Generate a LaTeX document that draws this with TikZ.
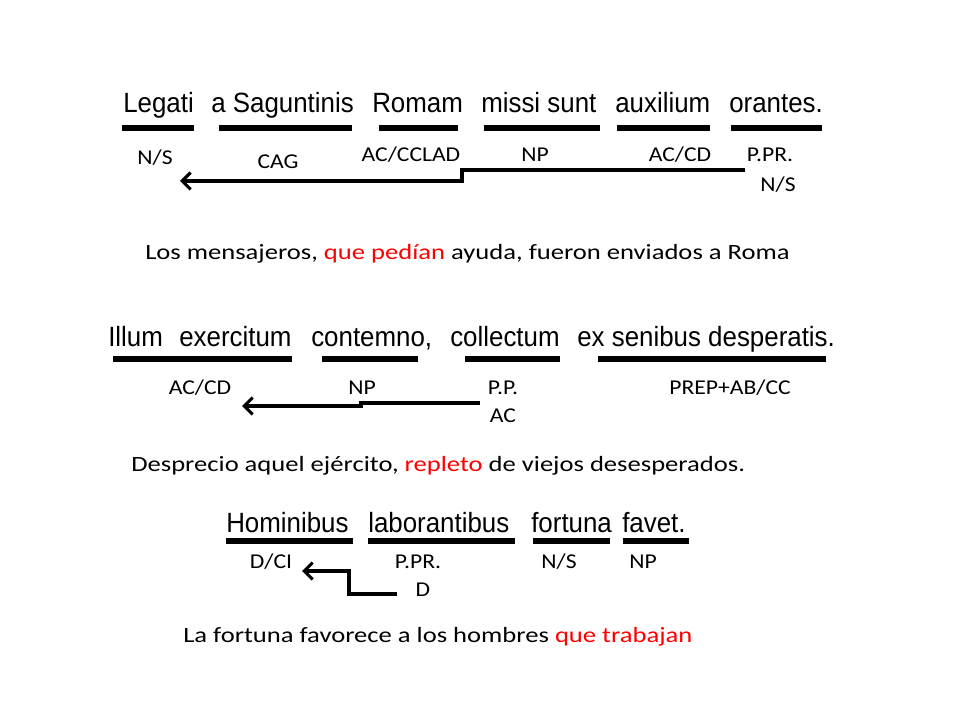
\documentclass[tikz,border=0pt]{standalone}
\usepackage{fontspec}
\setmainfont{Carlito}[FakeStretch=1.22]
\newfontfamily\tagfont{Carlito}[FakeStretch=1.12]
\newfontfamily\arialfont{Liberation Sans}[FakeStretch=0.93]
\usepackage{xcolor}
\usetikzlibrary{arrows.meta}
\usetikzlibrary{positioning}
\tikzset{x=0.025cm, y=-0.025cm,
      latin/.style={font=\arialfont\fontsize{19.8}{23}\selectfont, inner sep=0pt, anchor=base west},
      tag/.style={font=\tagfont\fontsize{15}{18}\selectfont, inner sep=0pt},
      gloss/.style={font=\fontsize{15.5}{19}\selectfont, inner sep=0pt, anchor=west},
      bar/.style={line width=3.6pt},
      link/.style={line width=2.2pt, -{Straight Barb[length=6pt,width=12pt,line width=2.2pt]}}}

\begin{document}
\begin{tikzpicture}
  \useasboundingbox (0,0) rectangle (960,720);

  % first sentence
  \node[latin] (legati) at (123,113) {Legati};
  \node[latin] (sagunt) at (211,113) {a Saguntinis};
  \node[latin] (romam)  at (372,113) {Romam};
  \node[latin] (missi)  at (481,113) {missi sunt};
  \node[latin] (auxil)  at (615,113) {auxilium};
  \node[latin] (orant)  at (729,113) {orantes.};
  \draw[bar] (122,128) -- (194,128);
  \draw[bar] (219,128) -- (352,128);
  \draw[bar] (379,128) -- (458,128);
  \draw[bar] (484,128) -- (600,128);
  \draw[bar] (617,128) -- (710,128);
  \draw[bar] (731,128) -- (822,128);

  \node[tag] (ns1)   at (155,158) {N/S};
  \node[tag] (cag)   at (278,162) {CAG};
  \node[tag] (accc)  at (411,155) {AC/CCLAD};
  \node[tag] (np1)   at (535,155) {NP};
  \node[tag] (accd1) at (680,155) {AC/CD};
  \node[tag] (ppr1)  at (770,155) {P.PR.};
  \node[tag] (ns1b)  at (778,185) {N/S};
  \coordinate (s1) at (745,170);
  \coordinate (e1) at (180,181);
  \draw[link] (s1) -- (462,170) -- (462,181) -- (e1);

  \node[gloss] (tr1) at (145,254) {Los mensajeros, \textcolor{red}{que pedían} ayuda, fueron enviados a Roma};

  % second sentence
  \node[latin] (illum)  at (108,347) {Illum};
  \node[latin] (exerc)  at (179,347) {exercitum};
  \node[latin] (contem) at (311,347) {contemno,};
  \node[latin] (collec) at (450,347) {collectum};
  \node[latin] (senib)  at (577,347) {ex senibus desperatis.};
  \draw[bar] (113,359) -- (292,359);
  \draw[bar] (322,359) -- (418,359);
  \draw[bar] (465,359) -- (560,359);
  \draw[bar] (598,359) -- (826,359);

  \node[tag] (accd2) at (200,388) {AC/CD};
  \node[tag] (np2)   at (362,388) {NP};
  \node[tag] (pp2)   at (503,388) {P.P.};
  \node[tag] (ac2)   at (503,416) {AC};
  \node[tag] (prep)  at (730,388) {PREP+AB/CC};
  \coordinate (s2) at (480,403);
  \coordinate (e2) at (242,406);
  \draw[link] (s2) -- (361,403) -- (361,406) -- (e2);

  \node[gloss] (tr2) at (131,466) {Desprecio aquel ejército, \textcolor{red}{repleto} de viejos desesperados.};

  % third sentence
  \node[latin] (homin) at (226,533) {Hominibus};
  \node[latin] (labor) at (368,533) {laborantibus};
  \node[latin] (fortu) at (531,533) {fortuna};
  \node[latin] (favet) at (622,533) {favet.};
  \draw[bar] (226,541) -- (353,541);
  \draw[bar] (368,541) -- (515,541);
  \draw[bar] (533,541) -- (610,541);
  \draw[bar] (623,541) -- (689,541);

  \node[tag] (dci)  at (271,562) {D/CI};
  \node[tag] (ppr3) at (418,562) {P.PR.};
  \node[tag] (ns3)  at (559,562) {N/S};
  \node[tag] (np3)  at (643,562) {NP};
  \node[tag] (d3)   at (423,590) {D};
  \coordinate (s3) at (397,594);
  \coordinate (e3) at (302,571);
  \draw[link] (s3) -- (349,594) -- (349,571) -- (e3);

  \node[gloss] (tr3) at (183,637) {La fortuna favorece a los hombres \textcolor{red}{que trabajan}};
\end{tikzpicture}
\end{document}
